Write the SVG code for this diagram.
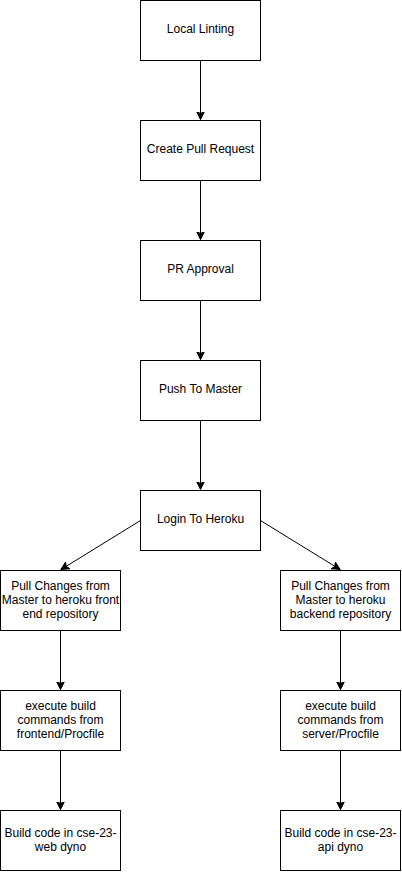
<svg xmlns="http://www.w3.org/2000/svg" width="402" height="872" viewBox="0 0 402 872">
<style>
.box{fill:#fff;stroke:#000;stroke-width:1}
.t{font-family:"Liberation Sans",Arial,sans-serif;font-size:12px;fill:#000;text-anchor:middle}
.c{stroke:#000;stroke-width:1;fill:none}
</style>
<defs>
<marker id="a" markerUnits="userSpaceOnUse" markerWidth="10" markerHeight="10" refX="8" refY="4" orient="auto" viewBox="0 0 10 8">
<path d="M0,0 L8,4 L0,8 L2,4 Z" fill="#000" stroke="#000" stroke-width="1"/>
</marker>
</defs>
<rect width="402" height="872" fill="#fff"/>
<g id="connectors">
<line class="c" x1="200.5" y1="60.5" x2="200.5" y2="119.5" marker-end="url(#a)"/>
<line class="c" x1="200.5" y1="180.5" x2="200.5" y2="239.5" marker-end="url(#a)"/>
<line class="c" x1="200.5" y1="300.5" x2="200.5" y2="359.5" marker-end="url(#a)"/>
<line class="c" x1="200.5" y1="420.5" x2="200.5" y2="489.5" marker-end="url(#a)"/>
<line class="c" x1="140.5" y1="520.5" x2="61" y2="569.5" marker-end="url(#a)"/>
<line class="c" x1="260.5" y1="520.5" x2="340" y2="569.5" marker-end="url(#a)"/>
<line class="c" x1="60.5" y1="630.5" x2="60.5" y2="689.5" marker-end="url(#a)"/>
<line class="c" x1="60.5" y1="750.5" x2="60.5" y2="809.5" marker-end="url(#a)"/>
<line class="c" x1="340.5" y1="630.5" x2="340.5" y2="689.5" marker-end="url(#a)"/>
<line class="c" x1="340.5" y1="750.5" x2="340.5" y2="809.5" marker-end="url(#a)"/>
</g>
<g id="n1"><rect class="box" x="140.5" y="0.5" width="120" height="60"/><text class="t" x="200.5" y="33">Local Linting</text></g>
<g id="n2"><rect class="box" x="140.5" y="120.5" width="120" height="60"/><text class="t" x="200.5" y="152.5">Create Pull Request</text></g>
<g id="n3"><rect class="box" x="140.5" y="240.5" width="120" height="60"/><text class="t" x="200.5" y="273">PR Approval</text></g>
<g id="n4"><rect class="box" x="140.5" y="360.5" width="120" height="60"/><text class="t" x="200.5" y="393">Push To Master</text></g>
<g id="n5"><rect class="box" x="140.5" y="490.5" width="120" height="60"/><text class="t" x="200.5" y="523">Login To Heroku</text></g>
<g id="n6"><rect class="box" x="0.5" y="570.5" width="120" height="60"/><text class="t" x="60.5" y="590">Pull Changes from</text><text class="t" x="60.5" y="604">Master to heroku front</text><text class="t" x="60.5" y="618">end repository</text></g>
<g id="n7"><rect class="box" x="280.5" y="570.5" width="120" height="60"/><text class="t" x="340.5" y="590">Pull Changes from</text><text class="t" x="340.5" y="604">Master to heroku</text><text class="t" x="340.5" y="618">backend repository</text></g>
<g id="n8"><rect class="box" x="0.5" y="690.5" width="120" height="60"/><text class="t" x="60.5" y="710">execute build</text><text class="t" x="60.5" y="724">commands from</text><text class="t" x="60.5" y="738">frontend/Procfile</text></g>
<g id="n9"><rect class="box" x="280.5" y="690.5" width="120" height="60"/><text class="t" x="340.5" y="710">execute build</text><text class="t" x="340.5" y="724">commands from</text><text class="t" x="340.5" y="738">server/Procfile</text></g>
<g id="n10"><rect class="box" x="0.5" y="810.5" width="120" height="60"/><text class="t" x="60.5" y="837">Build code in cse-23-</text><text class="t" x="60.5" y="851">web dyno</text></g>
<g id="n11"><rect class="box" x="280.5" y="810.5" width="120" height="60"/><text class="t" x="340.5" y="837">Build code in cse-23-</text><text class="t" x="340.5" y="851">api dyno</text></g>
</svg>
